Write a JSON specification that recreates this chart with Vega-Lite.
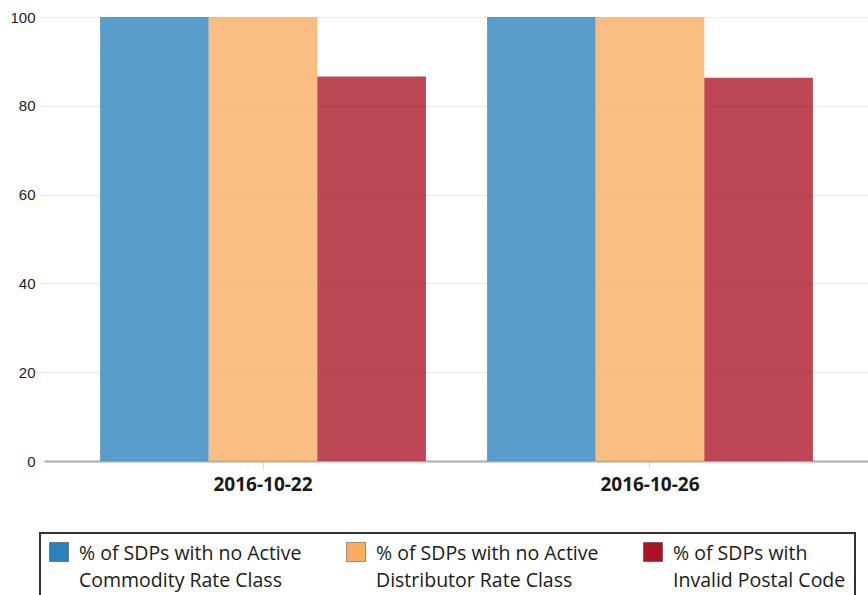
{
  "$schema": "https://vega.github.io/schema/vega-lite/v6.json",
  "width": 825,
  "height": 444,
  "autosize": {"type": "none"},
  "padding": {"left": 44, "top": 17, "right": 0, "bottom": 134},
  "background": "white",
  "config": {"view": {"stroke": null}},
  "data": {"values": [
    {"date": "2016-10-22", "series": "% of SDPs with no Active Commodity Rate Class", "value": 100},
    {"date": "2016-10-22", "series": "% of SDPs with no Active Distributor Rate Class", "value": 100},
    {"date": "2016-10-22", "series": "% of SDPs with Invalid Postal Code", "value": 86.6},
    {"date": "2016-10-26", "series": "% of SDPs with no Active Commodity Rate Class", "value": 100},
    {"date": "2016-10-26", "series": "% of SDPs with no Active Distributor Rate Class", "value": 100},
    {"date": "2016-10-26", "series": "% of SDPs with Invalid Postal Code", "value": 86.3}
  ]},
  "mark": {"type": "bar", "opacity": 0.78},
  "encoding": {
    "x": {
      "field": "date", "type": "nominal",
      "scale": {"paddingInner": 0.158, "paddingOuter": 0.145},
      "axis": {
        "title": null, "labelAngle": 0, "labelFont": "Open Sans", "labelFontWeight": "bold", "labelFontSize": 19,
        "labelColor": "#1a1a1a", "domainColor": "#aaaaaa", "domainWidth": 2, "tickColor": "#dddddd", "tickSize": 8,
        "labelPadding": 6
      }
    },
    "xOffset": {
      "field": "series", "type": "nominal",
      "sort": ["% of SDPs with no Active Commodity Rate Class", "% of SDPs with no Active Distributor Rate Class", "% of SDPs with Invalid Postal Code"],
      "scale": {"paddingInner": 0, "paddingOuter": 0}
    },
    "y": {
      "field": "value", "type": "quantitative",
      "scale": {"domain": [0, 100], "nice": false},
      "axis": {
        "title": null, "values": [0, 20, 40, 60, 80, 100], "grid": true, "gridColor": "#ebebeb", "domain": false,
        "tickColor": "#ebebeb", "tickSize": 4, "labelPadding": 5, "labelFont": "Liberation Sans", "labelFontSize": 15,
        "labelColor": "#222"
      }
    },
    "color": {
      "field": "series", "type": "nominal",
      "sort": ["% of SDPs with no Active Commodity Rate Class", "% of SDPs with no Active Distributor Rate Class", "% of SDPs with Invalid Postal Code"],
      "scale": {"range": ["#2a82bb", "#faac5f", "#ac1326"]},
      "legend": {
        "title": null, "orient": "none", "legendX": -4, "legendY": 516, "direction": "horizontal", "columns": 3,
        "gridAlign": "all", "columnPadding": 42, "symbolType": "square", "symbolSize": 361, "symbolOpacity": 1,
        "symbolStrokeColor": "rgba(0,0,0,0.35)", "symbolStrokeWidth": 1,
        "strokeColor": "#333333", "fillColor": "white", "padding": 9,
        "labelFont": "Open Sans", "labelFontSize": 19.5, "labelColor": "#1a1a1a", "labelLimit": 400, "labelOffset": 10,
        "labelExpr": "datum.label == '% of SDPs with no Active Commodity Rate Class' ? ['% of SDPs with no Active', 'Commodity Rate Class'] : datum.label == '% of SDPs with no Active Distributor Rate Class' ? ['% of SDPs with no Active', 'Distributor Rate Class'] : ['% of SDPs with', 'Invalid Postal Code\u2007\u2007\u2007\u2007\u2007\u2007']",
        "labelBaseline": "middle",
        "encode": {
          "labels": {"update": {"lineHeight": {"value": 27}, "dy": {"value": 1.5}}},
          "legend": {"update": {"strokeWidth": {"value": 2}}}
        }
      }
    }
  }
}
